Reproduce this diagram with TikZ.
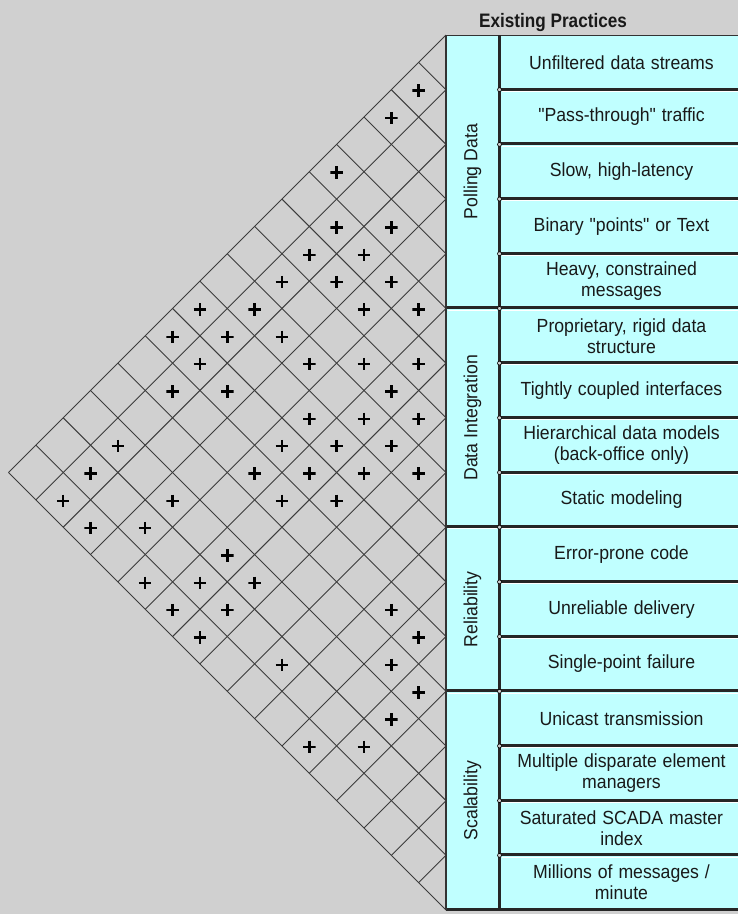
\documentclass[tikz,border=0pt]{standalone}
\usepackage{fontspec}
\usepackage{graphicx}
\setmainfont{Liberation Sans}
\definecolor{bg}{RGB}{208,208,208}
\definecolor{cy}{RGB}{192,255,255}
\definecolor{gridc}{RGB}{60,60,60}
\definecolor{txt}{RGB}{25,25,25}
\newcommand\nx[1]{\scalebox{0.93}[1]{#1}}
\newcommand\qd{\textquotedbl}
\begin{document}
\begin{tikzpicture}[x=1pt,y=-1pt,
  gridline/.style={draw=gridc, line width=0.9pt},
  plusmark/.style={inner sep=0pt, minimum size=12.5pt,
    path picture={\draw[line width=2.5pt, black]
      (path picture bounding box.west) -- (path picture bounding box.east)
      (path picture bounding box.north) -- (path picture bounding box.south);}},
  item/.style={fill=cy, inner sep=0pt, minimum width=237pt, minimum height=54.6875pt},
  itemtext/.style={inner sep=0pt, text width=236pt, align=center,
    font=\fontsize{19}{21}\selectfont, text=txt},
  cat/.style={fill=cy, draw=black!75, line width=1pt, inner sep=0pt, minimum height=53pt,
    rotate=90, font=\fontsize{19}{21}\selectfont, text=txt},
  sep/.style={draw=black!85, line width=3pt},
  hilite/.style={draw=white, line width=1pt},
  joint/.style={circle, inner sep=0pt, minimum size=4pt, fill=bg, draw=black, line width=0.6pt}
]
\useasboundingbox (0,0) rectangle (738,914);
\fill[bg] (0,0) rectangle (738,914);

% roof grid
\foreach \k in {0,...,16}{
  \pgfmathsetmacro\yk{35+\k*54.6875}
  \draw[gridline] (446,\yk) -- ({446-(910-\yk)/2},{(910+\yk)/2});
  \draw[gridline] (446,\yk) -- ({446-(\yk-35)/2},{(\yk+35)/2});
}

% correlation marks
\foreach \i/\j [count=\n] in {0/1,0/2,0/4,1/5,2/4,1/6,2/5,1/7,2/6,3/5,0/9,1/8,3/6,4/5,
  0/10,1/9,2/8,1/10,3/8,4/7,5/6,1/11,2/10,5/7,4/9,5/8,6/7,1/13,4/10,5/9,6/8,
  1/14,4/11,5/10,6/9,7/8,1/15,3/13,5/11,6/10,2/15,3/14,5/13,4/15,5/14,6/13,
  5/15,6/14,9/11,6/15,10/11,8/14,10/12,11/12,11/13,10/15,11/14}{
  \node[plusmark] (p\n) at ({446-(\j-\i)*27.34375},{36+(\i+\j+1)*27.34375}) {};
}

% categories
\node[cat, minimum width=273.4375pt] (c1) at (472.5,171.72) {\nx{Polling Data}};
\node[cat, minimum width=218.75pt] (c2) at (472.5,417.81) {\nx{Data Integration}};
\node[cat, minimum width=164.0625pt] (c3) at (472.5,609.22) {\nx{Reliability}};
\node[cat, minimum width=218.75pt] (c4) at (472.5,800.63) {\nx{Scalability}};

% item boxes
\foreach \k in {0,...,15}{
  \node[item] (b\k) at (619.5,{35+(\k+0.5)*54.6875}) {};
}
% item texts
\node[itemtext] (r0) at (b0.center) [xshift=2pt] {\nx{Unfiltered data streams}};
\node[itemtext] (r1) at (b1.center) [xshift=2pt] {\nx{\qd Pass-through\qd\ traffic}};
\node[itemtext] (r2) at (b2.center) [xshift=2pt] {\nx{Slow, high-latency}};
\node[itemtext] (r3) at (b3.center) [xshift=2pt] {\nx{Binary \qd points\qd\ or Text}};
\node[itemtext] (r4) at (b4.center) [xshift=2pt] {\nx{Heavy, constrained}\\\nx{messages}};
\node[itemtext] (r5) at (b5.center) [xshift=2pt] {\nx{Proprietary, rigid data}\\\nx{structure}};
\node[itemtext] (r6) at (b6.center) [xshift=2pt] {\nx{Tightly coupled interfaces}};
\node[itemtext] (r7) at (b7.center) [xshift=2pt] {\nx{Hierarchical data models}\\\nx{(back-office only)}};
\node[itemtext] (r8) at (b8.center) [xshift=2pt] {\nx{Static modeling}};
\node[itemtext] (r9) at (b9.center) [xshift=2pt] {\nx{Error-prone code}};
\node[itemtext] (r10) at (b10.center) [xshift=2pt] {\nx{Unreliable delivery}};
\node[itemtext] (r11) at (b11.center) [xshift=2pt] {\nx{Single-point failure}};
\node[itemtext] (r12) at (b12.center) [xshift=2pt] {\nx{Unicast transmission}};
\node[itemtext] (r13) at (b13.center) [xshift=2pt] {\nx{Multiple disparate element}\\\nx{managers}};
\node[itemtext] (r14) at (b14.center) [xshift=2pt] {\nx{Saturated SCADA master}\\\nx{index}};
\node[itemtext] (r15) at (b15.center) [xshift=2pt] {\nx{Millions of messages /}\\\nx{minute}};

% separators
\draw[draw=black!80, line width=1pt] (446,35) -- (738,35);
\foreach \k in {1,2,3,4,6,7,8,10,11,13,14,15}{
  \pgfmathsetmacro\yk{35+\k*54.6875}
  \draw[sep] (501,\yk-0.5) -- (738,\yk-0.5);
  \draw[hilite] (502,\yk+1.8) -- (738,\yk+1.8);
}
\foreach \k in {5,9,12}{
  \pgfmathsetmacro\yk{35+\k*54.6875}
  \draw[sep] (446,\yk-0.5) -- (738,\yk-0.5);
  \draw[hilite] (447.5,\yk+1.8) -- (497,\yk+1.8);
  \draw[hilite] (502,\yk+1.8) -- (738,\yk+1.8);
}
\draw[sep] (446,909) -- (738,909);
\draw[draw=black!85, line width=2.6pt] (499.5,35) -- (499.5,910);
\draw[draw=black!80, line width=1.2pt] (446,35) -- (446,910);
\foreach \k in {1,...,15}{
  \node[joint] (j\k) at (499.5,{35+\k*54.6875}) {};
}

% title
\node[font=\bfseries\fontsize{19.5}{21}\selectfont, text=txt, inner sep=0pt, anchor=base] (title) at (553,27) {\scalebox{0.88}[1]{Existing Practices}};
\end{tikzpicture}
\end{document}
